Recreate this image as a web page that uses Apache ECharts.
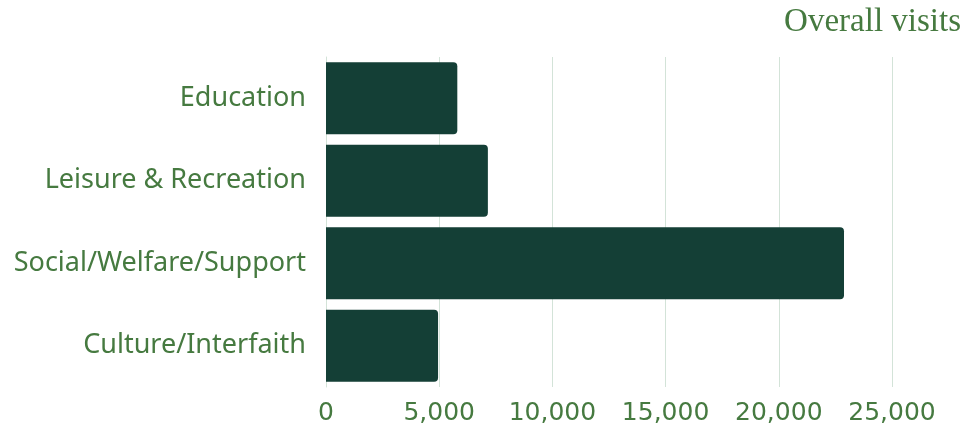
<!DOCTYPE html>
<html>
<head>
<meta charset="utf-8">
<script src="https://cdn.jsdelivr.net/npm/echarts@6/dist/echarts.min.js"></script>
<style>
  html, body { margin: 0; padding: 0; background: #fff; }
  #chart { width: 975px; height: 428px; }
</style>
</head>
<body>
<div id="chart"></div>
<script>
const categories = ['Education', 'Leisure & Recreation', 'Social/Welfare/Support', 'Culture/Interfaith']
const visits = [5800, 7150, 22880, 4950]

const textGreen = '#467a40'
const barColor = '#143f36'

const myChart = echarts.init(document.getElementById('chart'))
const option = {
  animation: false,
  title: {
    text: 'Overall visits',
    right: 9,
    top: 1,
    textStyle: {
      fontFamily: 'Liberation Serif',
      fontWeight: 'normal',
      fontSize: 33,
      color: textGreen
    }
  },
  grid: {
    left: 326,
    right: 83,
    top: 57,
    bottom: 41
  },
  xAxis: {
    type: 'value',
    min: 0,
    max: 25000,
    interval: 5000,
    axisLine: { show: false },
    axisTick: { show: false },
    splitLine: {
      lineStyle: { color: '#d3e3d8', width: 1 }
    },
    axisLabel: {
      margin: 14,
      fontFamily: 'DejaVu Sans',
      fontSize: 25,
      color: textGreen,
      formatter: (v) => v.toLocaleString('en-US')
    }
  },
  yAxis: {
    type: 'category',
    inverse: true,
    data: categories,
    axisLine: { show: true, lineStyle: { color: '#d3e3d8' } },
    axisTick: { show: false },
    axisLabel: {
      margin: 20,
      padding: [5, 0, 0, 0],
      fontFamily: 'Noto Sans',
      fontSize: 27,
      color: textGreen
    }
  },
  series: [
    {
      type: 'bar',
      data: visits,
      barCategoryGap: '13%',
      itemStyle: {
        color: barColor,
        borderRadius: [0, 4, 4, 0]
      }
    }
  ]
}
myChart.setOption(option)
</script>
</body>
</html>
